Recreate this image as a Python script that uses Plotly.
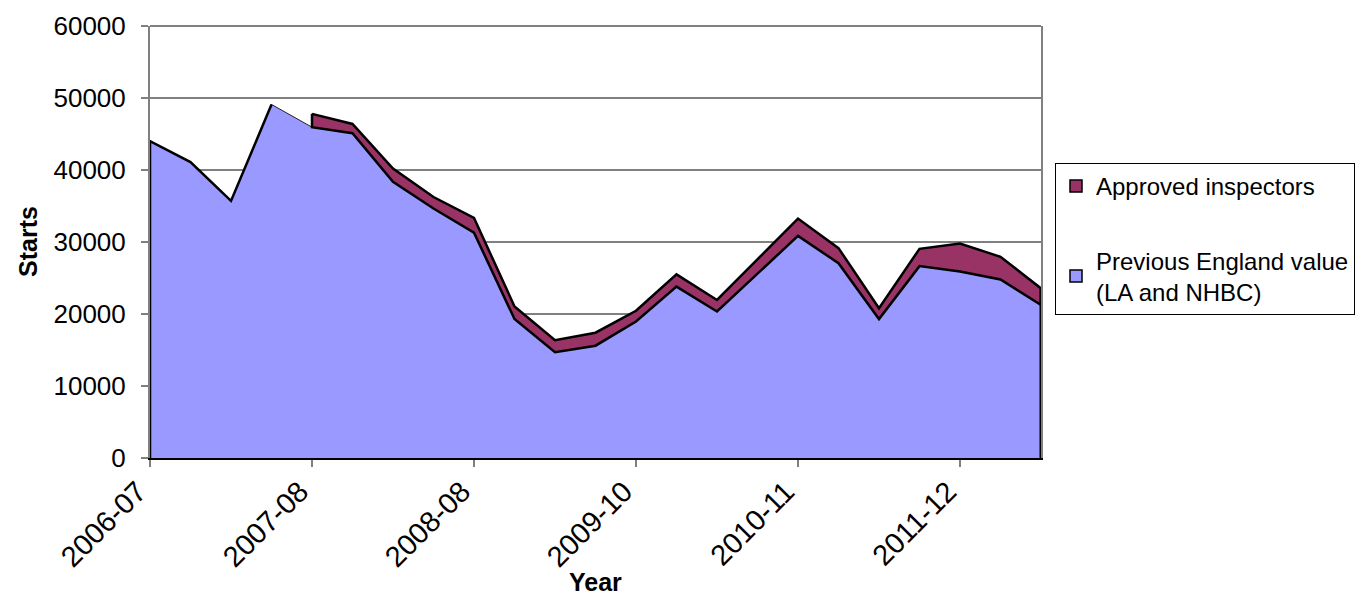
import plotly.graph_objects as go

# Quarterly housing starts, 2006-07 onwards (23 quarters)
quarter_index = list(range(23))

# Previous England value (LA and NHBC)
previous_england = [44000, 41100, 35700, 49100, 45950, 45100, 38350, 34650, 31300,
                    19300, 14700, 15600, 18950, 23800, 20350, 25550, 30850, 27050,
                    19300, 26650, 25900, 24800, 21250]

# Approved inspectors (recorded from the fifth quarter onwards)
approved_inspectors = [None, None, None, None, 1850, 1300, 1850, 1600, 2050,
                       1750, 1650, 1800, 1500, 1700, 1600, 2000, 2400, 2100,
                       1500, 2400, 3900, 3150, 2300]

tick_positions = [0, 4, 8, 12, 16, 20]
tick_labels = ["2006-07", "2007-08", "2008-08", "2009-10", "2010-11", "2011-12"]

BLUE = "#9999FF"
PURPLE = "#993366"
GREY = "#808080"
FONT = "Liberation Sans, Arial, sans-serif"

# Plot-area geometry in pixels (used to place legend and titles in paper units)
W, H = 1361, 599
L, R, T, B = 150, 1041, 26, 458
pw, ph = R - L, B - T

fig = go.Figure()

# Lower area: previous England value
fig.add_trace(go.Scatter(
    x=quarter_index, y=previous_england, mode="lines",
    fill="tozeroy", fillcolor=BLUE,
    line=dict(color="#222222", width=1),
    showlegend=False, hoverinfo="skip",
))

# Stacked band for approved inspectors, drawn as a closed polygon
ai_idx = [i for i, v in enumerate(approved_inspectors) if v is not None]
band_top = [previous_england[i] + approved_inspectors[i] for i in ai_idx]
band_bottom = [previous_england[i] for i in ai_idx]
fig.add_trace(go.Scatter(
    x=ai_idx + ai_idx[::-1] + [ai_idx[0]],
    y=band_top + band_bottom[::-1] + [band_top[0]],
    mode="lines", fill="toself", fillcolor=PURPLE,
    line=dict(color="black", width=2.5),
    showlegend=False, hoverinfo="skip",
))

# Heavy outline of the lower area (left part before the band starts)
first = ai_idx[0]
fig.add_trace(go.Scatter(
    x=[0] + quarter_index[:first],
    y=[0] + previous_england[:first],
    mode="lines", line=dict(color="black", width=2.5),
    showlegend=False, hoverinfo="skip",
))
# Right-hand vertical edge of the stacked areas
last = quarter_index[-1]
fig.add_trace(go.Scatter(
    x=[last, last], y=[0, band_top[-1]],
    mode="lines", line=dict(color="black", width=3),
    showlegend=False, hoverinfo="skip",
))

# Legend entries
fig.add_trace(go.Scatter(
    x=[None], y=[None], mode="markers", name="Approved inspectors",
    marker=dict(symbol="square", size=12, color=PURPLE, line=dict(color="black", width=1.5)),
    legendgroup="ai",
))
fig.add_trace(go.Scatter(
    x=[None], y=[None], mode="markers", name="Previous England value<br>(LA and NHBC)",
    marker=dict(symbol="square", size=12, color=BLUE, line=dict(color="black", width=1.5)),
    legendgroup="prev",
))

fig.update_layout(
    width=W, height=H,
    margin=dict(l=L, r=W - R, t=T, b=H - B, autoexpand=False),
    paper_bgcolor="white", plot_bgcolor="white",
    font=dict(family=FONT, size=24, color="black"),
    legend=dict(
        x=(1055 - L) / pw, y=(B - 163) / ph, xanchor="left", yanchor="top",
        bgcolor="white", bordercolor="black", borderwidth=1,
        font=dict(family=FONT, size=24, color="black"),
        traceorder="grouped", tracegroupgap=40,
        itemwidth=30,
    ),
    xaxis=dict(
        range=[0, last], automargin=False,
        tickmode="array", tickvals=tick_positions, ticktext=tick_labels,
        tickangle=-45,
        ticks="outside", ticklen=7, tickcolor=GREY, tickwidth=1.5,
        ticklabelstandoff=-4, ticklabelshift=-12,
        showline=True, linecolor="black", linewidth=2,
        showgrid=False, zeroline=False,
        tickfont=dict(family=FONT, size=29),
    ),
    yaxis=dict(
        range=[0, 60000], dtick=10000, tickformat="d", automargin=False,
        ticks="outside", ticklen=7, tickcolor=GREY, tickwidth=1.5,
        ticklabelstandoff=10,
        showline=True, linecolor=GREY, linewidth=2, mirror=True,
        layer="below traces",
        showgrid=True, gridcolor=GREY, gridwidth=1.5,
        zeroline=False,
        tickfont=dict(family=FONT, size=26),
    ),
    shapes=[dict(type="line", xref="paper", yref="paper", x0=0, x1=1, y0=1, y1=1,
                 line=dict(color=GREY, width=2))],
    annotations=[
        dict(text="<b>Starts</b>", textangle=-90, xref="paper", yref="paper",
             x=(28 - L) / pw, y=0.5, xanchor="center", yanchor="middle",
             showarrow=False, font=dict(family=FONT, size=25)),
        dict(text="<b>Year</b>", xref="paper", yref="paper",
             x=0.5, y=(B - 598) / ph, xanchor="center", yanchor="bottom",
             showarrow=False, font=dict(family=FONT, size=25)),
    ],
)

fig.write_html("out.html")
